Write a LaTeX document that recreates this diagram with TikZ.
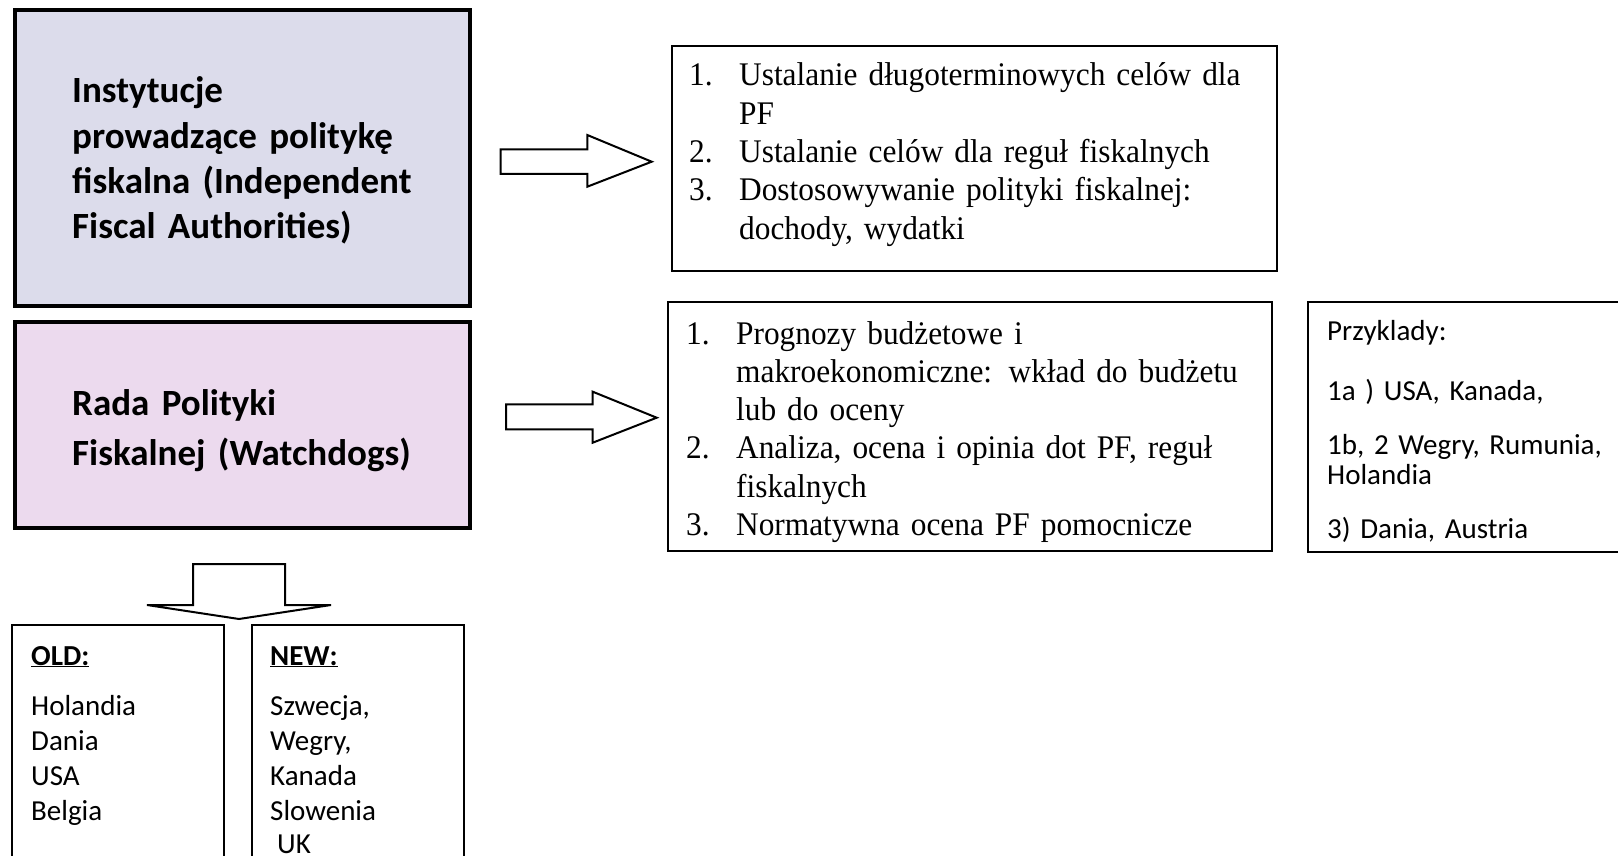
\documentclass[tikz,border=0pt]{standalone}
\usepackage{fontspec}
\setmainfont{Carlito}
\newfontfamily\timesf[FakeStretch=0.95]{Liberation Serif}
\definecolor{ifafill}{RGB}{220,220,235}
\definecolor{wdfill}{RGB}{236,218,238}
\newcommand\lnum[1]{\makebox[50pt][l]{#1}}
\newcommand\lind{\hspace*{50pt}}
\begin{document}
\begin{tikzpicture}[x=1pt,y=-1pt,
  bigbox/.style={draw=black, line width=4pt, rectangle, inner sep=0pt, anchor=north west},
  listbox/.style={draw=black, line width=1.8pt, rectangle, inner sep=0pt, anchor=north west},
  boldtxt/.style={anchor=base west, inner sep=0pt, align=left, text width=420pt, font=\fontsize{37}{45.3}\selectfont\bfseries},
  serif/.style={anchor=base west, inner sep=0pt, align=left, text width=580pt, font=\timesf\fontsize{33}{38.3}\selectfont},
  plain/.style={anchor=base west, inner sep=0pt, align=left, text width=300pt, font=\fontsize{29}{35}\selectfont},
  blockarrow/.style={draw=black, line width=2pt, fill=white, line join=miter}
]
\useasboundingbox (0,0) rectangle (1618,856);
\clip (0,0) rectangle (1618,856);

% boxes
\node[bigbox, fill=ifafill, minimum width=455pt, minimum height=296pt] (ifa) at (13,8) {};
\node[bigbox, fill=wdfill, minimum width=455pt, minimum height=206pt] (wd) at (13,320) {};
\node[listbox, minimum width=605pt, minimum height=225pt] (tasks1) at (671,45) {};
\node[listbox, minimum width=604pt, minimum height=249pt] (tasks2) at (667,301) {};
\node[listbox, minimum width=330pt, minimum height=250pt] (ex) at (1307,301) {};
\node[listbox, minimum width=212pt, minimum height=260pt] (old) at (11,624) {};
\node[listbox, minimum width=212pt, minimum height=260pt] (new) at (251,624) {};

% texts
\node[boldtxt] (ifat) at (72,103) {Instytucje\\prowadzące politykę\\fiskalna (Independent\\Fiscal Authorities)};
\node[boldtxt, font=\fontsize{37}{50.5}\selectfont\bfseries] (wdt) at (72,415) {Rada Polityki\\Fiskalnej (Watchdogs)};
\node[serif] (t1) at (689,86) {\lnum{1.}Ustalanie długoterminowych celów dla\\\lind PF\\\lnum{2.}Ustalanie celów dla reguł fiskalnych\\\lnum{3.}Dostosowywanie polityki fiskalnej:\\\lind dochody, wydatki};
\node[serif] (t2) at (686,344) {\lnum{1.}Prognozy budżetowe i\\\lind makroekonomiczne: wkład do budżetu\\\lind lub do oceny\\\lnum{2.}Analiza, ocena i opinia dot PF, reguł\\\lind fiskalnych\\\lnum{3.}Normatywna ocena PF pomocnicze};
\node[plain, font=\fontsize{29}{33}\selectfont] (ext) at (1327,340) {Przyklady:\\[27pt]1a ) USA, Kanada,\\[21pt]1b, 2 Wegry, Rumunia,\\[-3pt]Holandia\\[21pt]3) Dania, Austria};
\node[plain] (oldt) at (31,665) {\textbf{\underline{OLD:}}\\[15pt]Holandia\\Dania\\USA\\Belgia};
\node[plain] (newt) at (270,665) {\textbf{\underline{NEW:}}\\[15pt]Szwecja,\\Wegry,\\Kanada\\Slowenia\\[-2pt]\hspace*{7pt}UK};

% block arrows
\draw[blockarrow] (500.7,149.3) -- (587.3,149.3) -- (587.3,135) -- (651.7,161.7) -- (587.3,186.7) -- (587.3,174) -- (500.7,174) -- cycle;
\draw[blockarrow] (506,404.3) -- (592.7,404.3) -- (592.7,391.7) -- (656.7,417.7) -- (592.7,442.7) -- (592.7,429.3) -- (506,429.3) -- cycle;
\draw[blockarrow] (193,564) -- (285,564) -- (285,605) -- (331,605) -- (239,619) -- (147,605) -- (193,605) -- cycle;
\end{tikzpicture}
\end{document}
